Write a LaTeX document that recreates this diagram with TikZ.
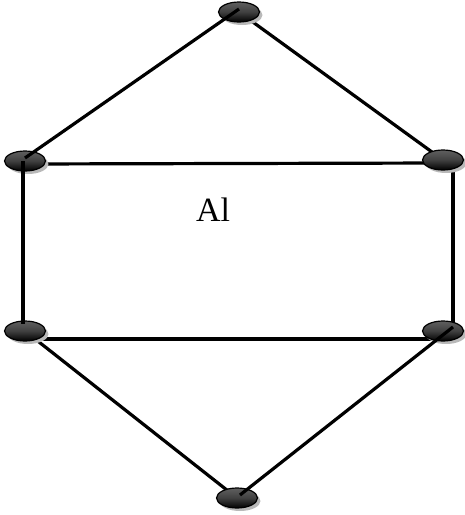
\documentclass[tikz,border=0pt]{standalone}
\usepackage{fontspec}
\setmainfont{Liberation Serif}
\usepackage{tikz}
\usetikzlibrary{shapes.geometric,shadows,backgrounds}
\tikzset{
  vertnode/.style={ellipse,draw=black,line width=1.2pt,minimum width=41pt,minimum height=20pt,inner sep=0pt,
    top color=gray!75!black,bottom color=black,middle color=gray!50!black,
    drop shadow={shadow xshift=3pt,shadow yshift=-3pt,fill=gray!55,opacity=1}},
  edgeline/.style={line width=3.2pt,draw=black}
}
\begin{document}
\begin{tikzpicture}[x=1pt,y=-1pt]
  \useasboundingbox (0,0) rectangle (465,515);
  \node[vertnode] (top) at (239,12) {};
  \node[vertnode] (lu) at (25,161) {};
  \node[vertnode] (ru) at (443,160) {};
  \node[vertnode] (ll) at (25,331) {};
  \node[vertnode] (rl) at (443,331) {};
  \node[vertnode] (bot) at (237,498) {};
  \node[font=\fontsize{34}{40}\selectfont,anchor=base] (lab) at (213,221) {Al};
  \begin{scope}[on background layer]
    \draw[edgeline] (top.center) -- (ru.center);
    \draw[edgeline] ([yshift=-3pt]lu.center) -- ([yshift=-3pt]ru.center);
    \draw[edgeline] ([xshift=10pt]ru.center) -- ([xshift=10pt]rl.center);
    \draw[edgeline] ([yshift=-8pt]ll.center) -- ([yshift=-8pt]rl.center);
    \draw[edgeline] (ll.center) -- (bot.center);
  \end{scope}
  \draw[edgeline] ([xshift=-2pt]lu.center) -- ([xshift=-2pt,yshift=7pt]ll.center);
  \draw[edgeline] ([yshift=3pt]top.center) -- ([yshift=3pt]lu.center);
  \draw[edgeline] ([xshift=10pt,yshift=4pt]rl.center) -- ([xshift=3pt,yshift=3pt]bot.center);
\end{tikzpicture}
\end{document}
